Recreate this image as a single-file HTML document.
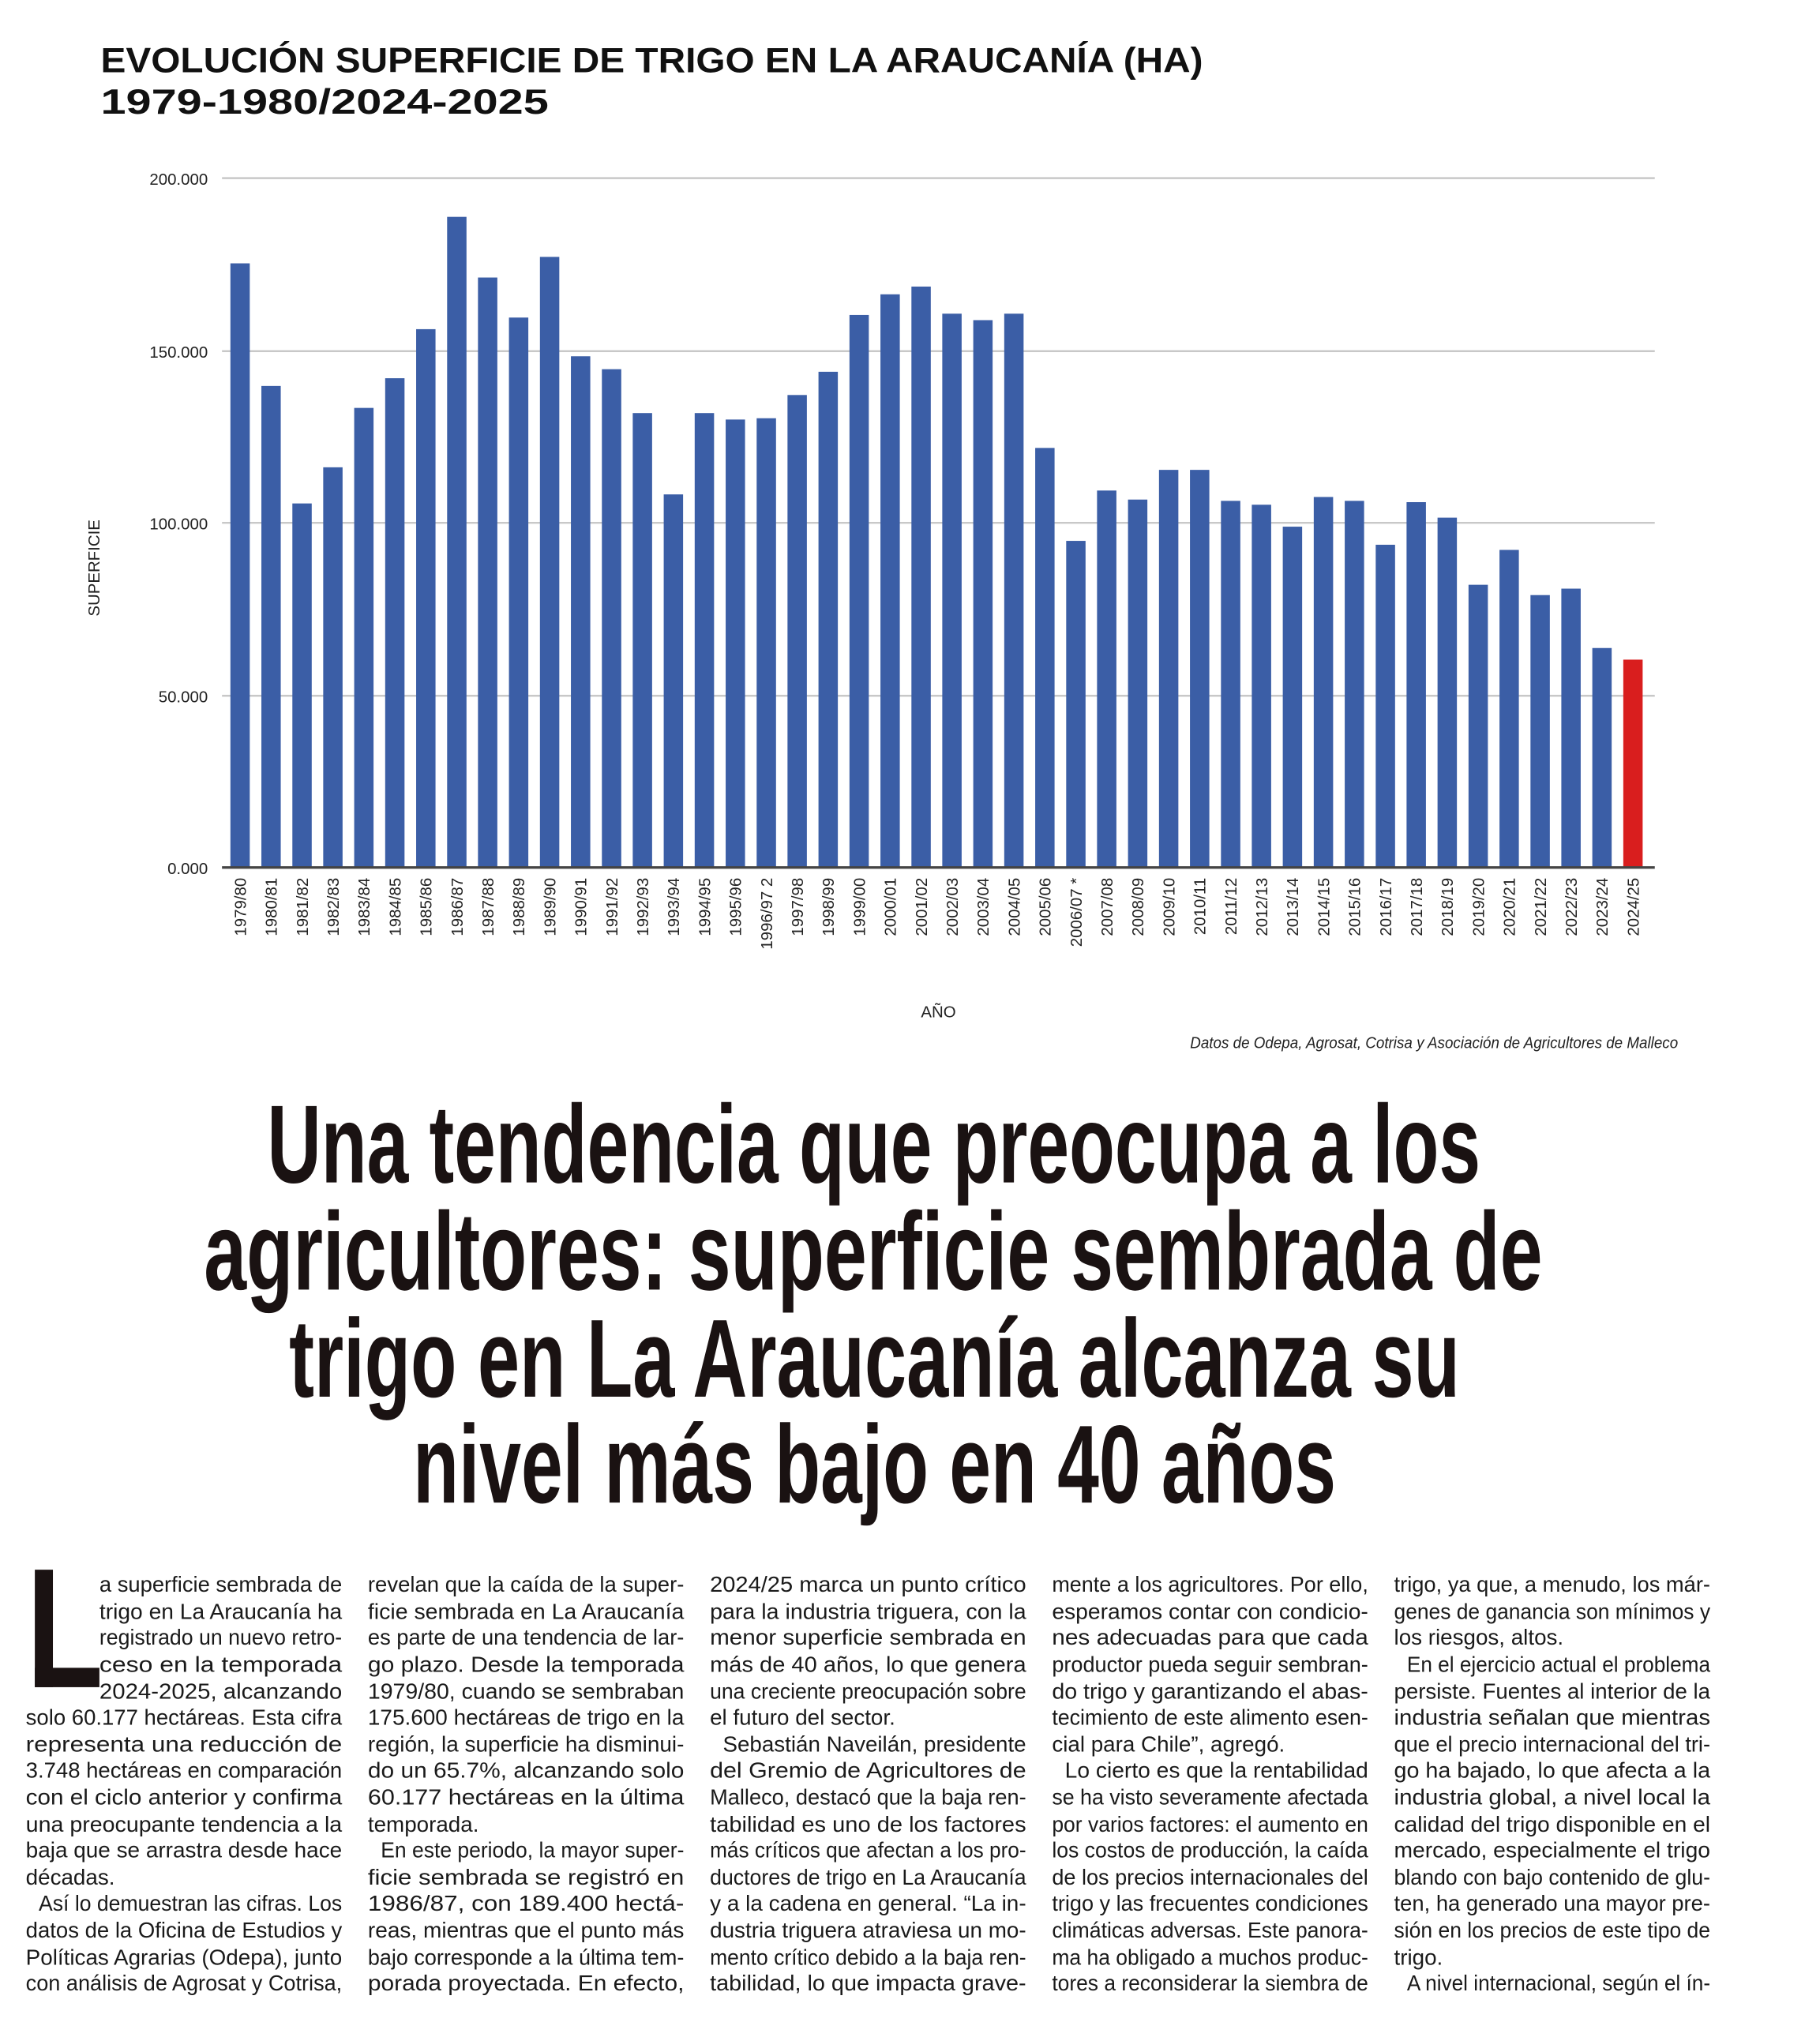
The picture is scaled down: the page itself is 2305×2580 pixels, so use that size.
<!DOCTYPE html>
<html><head><meta charset="utf-8"><style>
html,body{margin:0;padding:0;background:#fff;}
svg{display:block;}
.t{font-family:"Liberation Sans",sans-serif;font-weight:bold;fill:#111;}
.ax{font-family:"Liberation Sans",sans-serif;font-size:12.5px;fill:#222;}
.h{font-family:"Liberation Sans Narrow","Liberation Sans",sans-serif;font-weight:bold;font-size:86px;fill:#1a1212;}
.b{font-family:"Liberation Sans Narrow","Liberation Sans",sans-serif;font-size:17px;fill:#1a1a1a;}
</style></head><body>
<svg width="2305" height="2580" viewBox="0 0 1410 1578" preserveAspectRatio="none" xmlns="http://www.w3.org/2000/svg">
<rect width="1410" height="1578" fill="#fff"/>
<text class="t" x="78" y="56" font-size="27" textLength="854" lengthAdjust="spacingAndGlyphs">EVOLUCIÓN SUPERFICIE DE TRIGO EN LA ARAUCANÍA (HA)</text>
<text class="t" x="78" y="88" font-size="27" textLength="347" lengthAdjust="spacingAndGlyphs">1979-1980/2024-2025</text>
<g stroke="#c8c8c8" stroke-width="1.5">
<line x1="172" y1="138" x2="1282" y2="138"/><line x1="172" y1="272" x2="1282" y2="272"/>
<line x1="172" y1="405" x2="1282" y2="405"/><line x1="172" y1="539" x2="1282" y2="539"/>
</g>
<g class="ax" text-anchor="end">
<text x="161" y="143">200.000</text><text x="161" y="277">150.000</text><text x="161" y="410">100.000</text><text x="161" y="544">50.000</text><text x="161" y="677">0.000</text>
</g>
<text class="ax" transform="translate(77,440) rotate(-90)" text-anchor="middle">SUPERFICIE</text>
<g fill="#3b5ea6">
<rect x="178.5" y="204" width="15" height="468"/><rect x="202.5" y="299" width="15" height="373"/><rect x="226.5" y="390" width="15" height="282"/><rect x="250.4" y="362" width="15" height="310"/><rect x="274.4" y="316" width="15" height="356"/><rect x="298.4" y="293" width="15" height="379"/><rect x="322.4" y="255" width="15" height="417"/><rect x="346.4" y="168" width="15" height="504"/><rect x="370.3" y="215" width="15" height="457"/><rect x="394.3" y="246" width="15" height="426"/><rect x="418.3" y="199" width="15" height="473"/><rect x="442.3" y="276" width="15" height="396"/><rect x="466.3" y="286" width="15" height="386"/><rect x="490.2" y="320" width="15" height="352"/><rect x="514.2" y="383" width="15" height="289"/><rect x="538.2" y="320" width="15" height="352"/><rect x="562.2" y="325" width="15" height="347"/><rect x="586.2" y="324" width="15" height="348"/><rect x="610.1" y="306" width="15" height="366"/><rect x="634.1" y="288" width="15" height="384"/><rect x="658.1" y="244" width="15" height="428"/><rect x="682.1" y="228" width="15" height="444"/><rect x="706.1" y="222" width="15" height="450"/><rect x="730" y="243" width="15" height="429"/><rect x="754" y="248" width="15" height="424"/><rect x="778" y="243" width="15" height="429"/><rect x="802" y="347" width="15" height="325"/><rect x="826" y="419" width="15" height="253"/><rect x="849.9" y="380" width="15" height="292"/><rect x="873.9" y="387" width="15" height="285"/><rect x="897.9" y="364" width="15" height="308"/><rect x="921.9" y="364" width="15" height="308"/><rect x="945.9" y="388" width="15" height="284"/><rect x="969.8" y="391" width="15" height="281"/><rect x="993.8" y="408" width="15" height="264"/><rect x="1017.8" y="385" width="15" height="287"/><rect x="1041.8" y="388" width="15" height="284"/><rect x="1065.8" y="422" width="15" height="250"/><rect x="1089.7" y="389" width="15" height="283"/><rect x="1113.7" y="401" width="15" height="271"/><rect x="1137.7" y="453" width="15" height="219"/><rect x="1161.7" y="426" width="15" height="246"/><rect x="1185.7" y="461" width="15" height="211"/><rect x="1209.6" y="456" width="15" height="216"/><rect x="1233.6" y="502" width="15" height="170"/>
</g>
<rect x="1257.6" y="511" width="15" height="161" fill="#d91e1e"/>
<line x1="172" y1="672" x2="1282" y2="672" stroke="#444" stroke-width="2"/>
<g class="ax" text-anchor="end">
<text transform="translate(190.5,680) rotate(-90)">1979/80</text><text transform="translate(214.5,680) rotate(-90)">1980/81</text><text transform="translate(238.5,680) rotate(-90)">1981/82</text><text transform="translate(262.4,680) rotate(-90)">1982/83</text><text transform="translate(286.4,680) rotate(-90)">1983/84</text><text transform="translate(310.4,680) rotate(-90)">1984/85</text><text transform="translate(334.4,680) rotate(-90)">1985/86</text><text transform="translate(358.4,680) rotate(-90)">1986/87</text><text transform="translate(382.3,680) rotate(-90)">1987/88</text><text transform="translate(406.3,680) rotate(-90)">1988/89</text><text transform="translate(430.3,680) rotate(-90)">1989/90</text><text transform="translate(454.3,680) rotate(-90)">1990/91</text><text transform="translate(478.3,680) rotate(-90)">1991/92</text><text transform="translate(502.2,680) rotate(-90)">1992/93</text><text transform="translate(526.2,680) rotate(-90)">1993/94</text><text transform="translate(550.2,680) rotate(-90)">1994/95</text><text transform="translate(574.2,680) rotate(-90)">1995/96</text><text transform="translate(598.2,680) rotate(-90)">1996/97 2</text><text transform="translate(622.1,680) rotate(-90)">1997/98</text><text transform="translate(646.1,680) rotate(-90)">1998/99</text><text transform="translate(670.1,680) rotate(-90)">1999/00</text><text transform="translate(694.1,680) rotate(-90)">2000/01</text><text transform="translate(718.1,680) rotate(-90)">2001/02</text><text transform="translate(742,680) rotate(-90)">2002/03</text><text transform="translate(766,680) rotate(-90)">2003/04</text><text transform="translate(790,680) rotate(-90)">2004/05</text><text transform="translate(814,680) rotate(-90)">2005/06</text><text transform="translate(838,680) rotate(-90)">2006/07 *</text><text transform="translate(861.9,680) rotate(-90)">2007/08</text><text transform="translate(885.9,680) rotate(-90)">2008/09</text><text transform="translate(909.9,680) rotate(-90)">2009/10</text><text transform="translate(933.9,680) rotate(-90)">2010/11</text><text transform="translate(957.9,680) rotate(-90)">2011/12</text><text transform="translate(981.8,680) rotate(-90)">2012/13</text><text transform="translate(1005.8,680) rotate(-90)">2013/14</text><text transform="translate(1029.8,680) rotate(-90)">2014/15</text><text transform="translate(1053.8,680) rotate(-90)">2015/16</text><text transform="translate(1077.8,680) rotate(-90)">2016/17</text><text transform="translate(1101.7,680) rotate(-90)">2017/18</text><text transform="translate(1125.7,680) rotate(-90)">2018/19</text><text transform="translate(1149.7,680) rotate(-90)">2019/20</text><text transform="translate(1173.7,680) rotate(-90)">2020/21</text><text transform="translate(1197.7,680) rotate(-90)">2021/22</text><text transform="translate(1221.6,680) rotate(-90)">2022/23</text><text transform="translate(1245.6,680) rotate(-90)">2023/24</text><text transform="translate(1269.6,680) rotate(-90)">2024/25</text>
</g>
<text class="ax" x="727" y="788" text-anchor="middle" font-size="14">AÑO</text>
<text class="ax" x="1300" y="812" text-anchor="end" font-style="italic" font-size="12" textLength="378" lengthAdjust="spacingAndGlyphs">Datos de Odepa, Agrosat, Cotrisa y Asociación de Agricultores de Malleco</text>

<g transform="translate(0,6)">
<text class="h" x="207" y="910" textLength="940" lengthAdjust="spacingAndGlyphs">Una tendencia que preocupa a los</text>
<text class="h" x="158" y="993" textLength="1037" lengthAdjust="spacingAndGlyphs">agricultores: superficie sembrada de</text>
<text class="h" x="224" y="1076" textLength="907" lengthAdjust="spacingAndGlyphs">trigo en La Araucanía alcanza su</text>
<text class="h" x="320" y="1158" textLength="715" lengthAdjust="spacingAndGlyphs">nivel más bajo en 40 años</text>
</g>

<rect x="27" y="1216" width="14" height="91" fill="#1a1212"/><rect x="27" y="1292" width="50" height="15" fill="#1a1212"/>
<g class="b" transform="translate(0,8)">
<text x="77" y="1225" textLength="188" lengthAdjust="spacingAndGlyphs">a superficie sembrada de</text>
<text x="77" y="1246" textLength="188" lengthAdjust="spacingAndGlyphs">trigo en La Araucanía ha</text>
<text x="77" y="1266" textLength="188" lengthAdjust="spacingAndGlyphs">registrado un nuevo retro-</text>
<text x="77" y="1287" textLength="188" lengthAdjust="spacingAndGlyphs">ceso en la temporada</text>
<text x="77" y="1308" textLength="188" lengthAdjust="spacingAndGlyphs">2024-2025, alcanzando</text>
<text x="20" y="1328" textLength="245" lengthAdjust="spacingAndGlyphs">solo 60.177 hectáreas. Esta cifra</text>
<text x="20" y="1349" textLength="245" lengthAdjust="spacingAndGlyphs">representa una reducción de</text>
<text x="20" y="1369" textLength="245" lengthAdjust="spacingAndGlyphs">3.748 hectáreas en comparación</text>
<text x="20" y="1390" textLength="245" lengthAdjust="spacingAndGlyphs">con el ciclo anterior y confirma</text>
<text x="20" y="1411" textLength="245" lengthAdjust="spacingAndGlyphs">una preocupante tendencia a la</text>
<text x="20" y="1431" textLength="245" lengthAdjust="spacingAndGlyphs">baja que se arrastra desde hace</text>
<text x="20" y="1452">décadas.</text>
<text x="30" y="1472" textLength="235" lengthAdjust="spacingAndGlyphs">Así lo demuestran las cifras. Los</text>
<text x="20" y="1493" textLength="245" lengthAdjust="spacingAndGlyphs">datos de la Oficina de Estudios y</text>
<text x="20" y="1514" textLength="245" lengthAdjust="spacingAndGlyphs">Políticas Agrarias (Odepa), junto</text>
<text x="20" y="1534" textLength="245" lengthAdjust="spacingAndGlyphs">con análisis de Agrosat y Cotrisa,</text>

<text x="285" y="1225" textLength="245" lengthAdjust="spacingAndGlyphs">revelan que la caída de la super-</text>
<text x="285" y="1246" textLength="245" lengthAdjust="spacingAndGlyphs">ficie sembrada en La Araucanía</text>
<text x="285" y="1266" textLength="245" lengthAdjust="spacingAndGlyphs">es parte de una tendencia de lar-</text>
<text x="285" y="1287" textLength="245" lengthAdjust="spacingAndGlyphs">go plazo. Desde la temporada</text>
<text x="285" y="1308" textLength="245" lengthAdjust="spacingAndGlyphs">1979/80, cuando se sembraban</text>
<text x="285" y="1328" textLength="245" lengthAdjust="spacingAndGlyphs">175.600 hectáreas de trigo en la</text>
<text x="285" y="1349" textLength="245" lengthAdjust="spacingAndGlyphs">región, la superficie ha disminui-</text>
<text x="285" y="1369" textLength="245" lengthAdjust="spacingAndGlyphs">do un 65.7%, alcanzando solo</text>
<text x="285" y="1390" textLength="245" lengthAdjust="spacingAndGlyphs">60.177 hectáreas en la última</text>
<text x="285" y="1411">temporada.</text>
<text x="295" y="1431" textLength="235" lengthAdjust="spacingAndGlyphs">En este periodo, la mayor super-</text>
<text x="285" y="1452" textLength="245" lengthAdjust="spacingAndGlyphs">ficie sembrada se registró en</text>
<text x="285" y="1472" textLength="245" lengthAdjust="spacingAndGlyphs">1986/87, con 189.400 hectá-</text>
<text x="285" y="1493" textLength="245" lengthAdjust="spacingAndGlyphs">reas, mientras que el punto más</text>
<text x="285" y="1514" textLength="245" lengthAdjust="spacingAndGlyphs">bajo corresponde a la última tem-</text>
<text x="285" y="1534" textLength="245" lengthAdjust="spacingAndGlyphs">porada proyectada. En efecto,</text>

<text x="550" y="1225" textLength="245" lengthAdjust="spacingAndGlyphs">2024/25 marca un punto crítico</text>
<text x="550" y="1246" textLength="245" lengthAdjust="spacingAndGlyphs">para la industria triguera, con la</text>
<text x="550" y="1266" textLength="245" lengthAdjust="spacingAndGlyphs">menor superficie sembrada en</text>
<text x="550" y="1287" textLength="245" lengthAdjust="spacingAndGlyphs">más de 40 años, lo que genera</text>
<text x="550" y="1308" textLength="245" lengthAdjust="spacingAndGlyphs">una creciente preocupación sobre</text>
<text x="550" y="1328">el futuro del sector.</text>
<text x="560" y="1349" textLength="235" lengthAdjust="spacingAndGlyphs">Sebastián Naveilán, presidente</text>
<text x="550" y="1369" textLength="245" lengthAdjust="spacingAndGlyphs">del Gremio de Agricultores de</text>
<text x="550" y="1390" textLength="245" lengthAdjust="spacingAndGlyphs">Malleco, destacó que la baja ren-</text>
<text x="550" y="1411" textLength="245" lengthAdjust="spacingAndGlyphs">tabilidad es uno de los factores</text>
<text x="550" y="1431" textLength="245" lengthAdjust="spacingAndGlyphs">más críticos que afectan a los pro-</text>
<text x="550" y="1452" textLength="245" lengthAdjust="spacingAndGlyphs">ductores de trigo en La Araucanía</text>
<text x="550" y="1472" textLength="245" lengthAdjust="spacingAndGlyphs">y a la cadena en general. “La in-</text>
<text x="550" y="1493" textLength="245" lengthAdjust="spacingAndGlyphs">dustria triguera atraviesa un mo-</text>
<text x="550" y="1514" textLength="245" lengthAdjust="spacingAndGlyphs">mento crítico debido a la baja ren-</text>
<text x="550" y="1534" textLength="245" lengthAdjust="spacingAndGlyphs">tabilidad, lo que impacta grave-</text>

<text x="815" y="1225" textLength="245" lengthAdjust="spacingAndGlyphs">mente a los agricultores. Por ello,</text>
<text x="815" y="1246" textLength="245" lengthAdjust="spacingAndGlyphs">esperamos contar con condicio-</text>
<text x="815" y="1266" textLength="245" lengthAdjust="spacingAndGlyphs">nes adecuadas para que cada</text>
<text x="815" y="1287" textLength="245" lengthAdjust="spacingAndGlyphs">productor pueda seguir sembran-</text>
<text x="815" y="1308" textLength="245" lengthAdjust="spacingAndGlyphs">do trigo y garantizando el abas-</text>
<text x="815" y="1328" textLength="245" lengthAdjust="spacingAndGlyphs">tecimiento de este alimento esen-</text>
<text x="815" y="1349">cial para Chile”, agregó.</text>
<text x="825" y="1369" textLength="235" lengthAdjust="spacingAndGlyphs">Lo cierto es que la rentabilidad</text>
<text x="815" y="1390" textLength="245" lengthAdjust="spacingAndGlyphs">se ha visto severamente afectada</text>
<text x="815" y="1411" textLength="245" lengthAdjust="spacingAndGlyphs">por varios factores: el aumento en</text>
<text x="815" y="1431" textLength="245" lengthAdjust="spacingAndGlyphs">los costos de producción, la caída</text>
<text x="815" y="1452" textLength="245" lengthAdjust="spacingAndGlyphs">de los precios internacionales del</text>
<text x="815" y="1472" textLength="245" lengthAdjust="spacingAndGlyphs">trigo y las frecuentes condiciones</text>
<text x="815" y="1493" textLength="245" lengthAdjust="spacingAndGlyphs">climáticas adversas. Este panora-</text>
<text x="815" y="1514" textLength="245" lengthAdjust="spacingAndGlyphs">ma ha obligado a muchos produc-</text>
<text x="815" y="1534" textLength="245" lengthAdjust="spacingAndGlyphs">tores a reconsiderar la siembra de</text>

<text x="1080" y="1225" textLength="245" lengthAdjust="spacingAndGlyphs">trigo, ya que, a menudo, los már-</text>
<text x="1080" y="1246" textLength="245" lengthAdjust="spacingAndGlyphs">genes de ganancia son mínimos y</text>
<text x="1080" y="1266">los riesgos, altos.</text>
<text x="1090" y="1287" textLength="235" lengthAdjust="spacingAndGlyphs">En el ejercicio actual el problema</text>
<text x="1080" y="1308" textLength="245" lengthAdjust="spacingAndGlyphs">persiste. Fuentes al interior de la</text>
<text x="1080" y="1328" textLength="245" lengthAdjust="spacingAndGlyphs">industria señalan que mientras</text>
<text x="1080" y="1349" textLength="245" lengthAdjust="spacingAndGlyphs">que el precio internacional del tri-</text>
<text x="1080" y="1369" textLength="245" lengthAdjust="spacingAndGlyphs">go ha bajado, lo que afecta a la</text>
<text x="1080" y="1390" textLength="245" lengthAdjust="spacingAndGlyphs">industria global, a nivel local la</text>
<text x="1080" y="1411" textLength="245" lengthAdjust="spacingAndGlyphs">calidad del trigo disponible en el</text>
<text x="1080" y="1431" textLength="245" lengthAdjust="spacingAndGlyphs">mercado, especialmente el trigo</text>
<text x="1080" y="1452" textLength="245" lengthAdjust="spacingAndGlyphs">blando con bajo contenido de glu-</text>
<text x="1080" y="1472" textLength="245" lengthAdjust="spacingAndGlyphs">ten, ha generado una mayor pre-</text>
<text x="1080" y="1493" textLength="245" lengthAdjust="spacingAndGlyphs">sión en los precios de este tipo de</text>
<text x="1080" y="1514">trigo.</text>
<text x="1090" y="1534" textLength="235" lengthAdjust="spacingAndGlyphs">A nivel internacional, según el ín-</text>
</g>
</svg>
</body></html>
